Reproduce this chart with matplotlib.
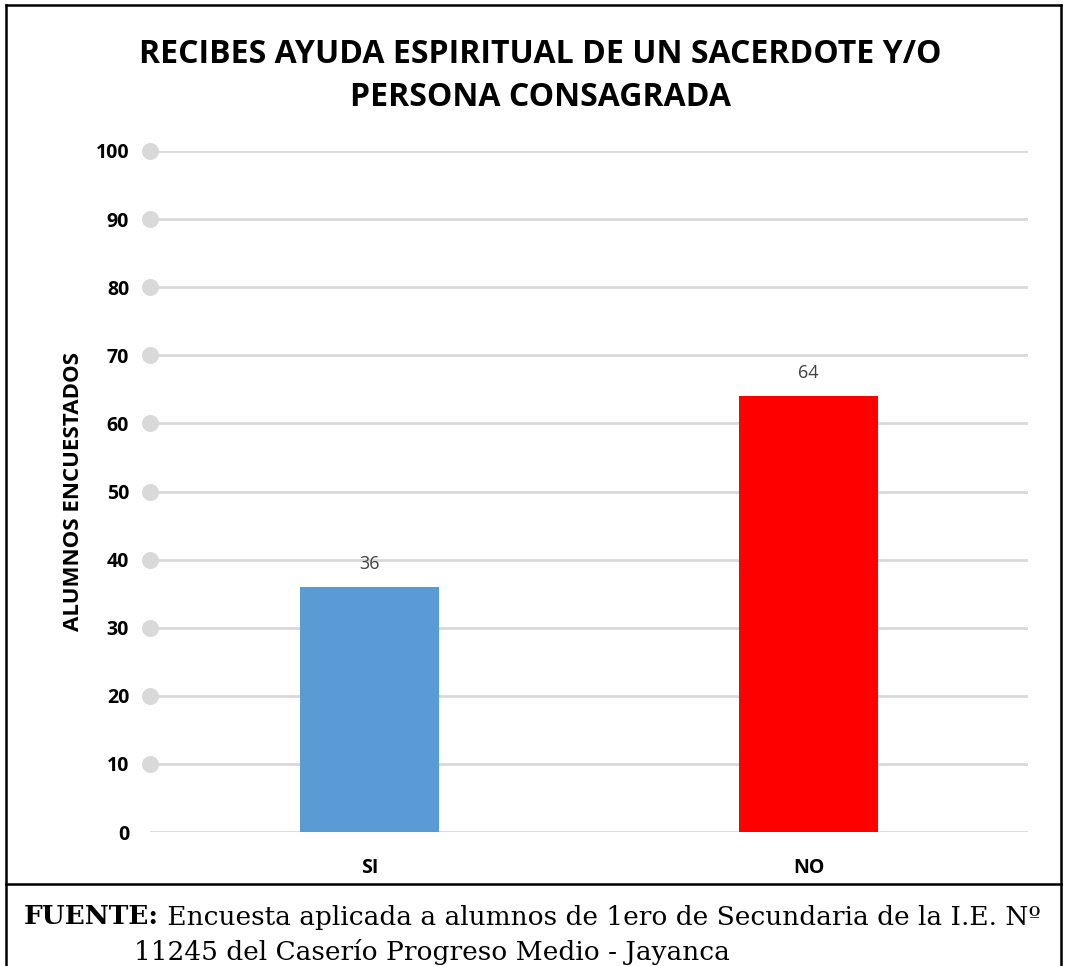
import matplotlib
matplotlib.use("Agg")
import matplotlib.pyplot as plt
from matplotlib.lines import Line2D
import matplotlib.transforms as mtransforms

categories = ["SI", "NO"]
values = [36, 64]
bar_colors = ["#5B9BD5", "#FF0000"]
yticks = [0, 10, 20, 30, 40, 50, 60, 70, 80, 90, 100]
title = "RECIBES AYUDA ESPIRITUAL DE UN SACERDOTE Y/O\nPERSONA CONSAGRADA"
ylabel = "ALUMNOS ENCUESTADOS"
footer_bold = "FUENTE:"
footer_line1 = " Encuesta aplicada a alumnos de 1ero de Secundaria de la I.E. Nº"
footer_line2 = "11245 del Caserío Progreso Medio - Jayanca"

W, H = 1069, 966
fig = plt.figure(figsize=(W / 100, H / 100), dpi=100)
fig.patch.set_facecolor("white")

left, right = 150 / W, 1028 / W
bottom, top = 1 - 832 / H, 1 - 151 / H
ax = fig.add_axes([left, bottom, right - left, top - bottom])

x = list(range(len(categories)))
ax.bar(x, values, width=0.315, color=bar_colors, zorder=3)
ax.set_xlim(-0.5, len(categories) - 0.5)
ax.set_ylim(0, 100)
ax.set_yticks(yticks)
ax.set_yticklabels([str(t) for t in yticks], fontsize=14, fontweight="bold",
                   family="Open Sans")
ax.set_xticks(x)
ax.set_xticklabels(categories, fontsize=14, fontweight="bold", family="Open Sans")
ax.tick_params(axis="y", length=0, pad=15)
ax.tick_params(axis="x", length=0, pad=19)
for s in ax.spines.values():
    s.set_visible(False)
ax.grid(axis="y", color="#D9D9D9", linewidth=2, zorder=0)
ax.set_axisbelow(True)

# gray dots at grid starts
trans = mtransforms.blended_transform_factory(ax.transAxes, ax.transData)
dots = [t for t in yticks if t > 0]
ax.scatter([0.0] * len(dots), dots, s=150, color="#D9D9D9", transform=trans,
           clip_on=False, zorder=4, linewidths=0)

for xi, v in zip(x, values):
    ax.annotate(str(v), (xi, v), xytext=(0, 10), textcoords="offset points",
                ha="center", va="bottom", fontsize=13, color="#404040",
                family="Open Sans")

ax.set_ylabel(ylabel, fontsize=16, fontweight="bold", family="Open Sans",
              labelpad=8)

fig.text(540 / W, 1 - 76 / H, title, ha="center", va="center",
         fontsize=23, fontweight="bold", family="Open Sans", linespacing=1.4)

# border box and footer separator
lw = 1.8
fig.add_artist(Line2D([6 / W, 6 / W], [0, 1 - 5 / H], color="black", lw=lw))
fig.add_artist(Line2D([1061 / W, 1061 / W], [0, 1 - 5 / H], color="black", lw=lw))
fig.add_artist(Line2D([6 / W, 1061 / W], [1 - 5 / H, 1 - 5 / H], color="black", lw=lw))
fig.add_artist(Line2D([6 / W, 1061 / W], [1 - 884 / H, 1 - 884 / H], color="black", lw=lw))

fs = 19
t1 = fig.text(24 / W, 1 - 917 / H, footer_bold, ha="left", va="center", fontsize=fs,
              fontweight="bold", family="DejaVu Serif")
fig.canvas.draw()
bb = t1.get_window_extent(renderer=fig.canvas.get_renderer())
fig.text(bb.x1 / W, 1 - 917 / H, footer_line1,
         ha="left", va="center", fontsize=fs, family="DejaVu Serif")
fig.text(134 / W, 1 - 952 / H, footer_line2,
         ha="left", va="center", fontsize=fs, family="DejaVu Serif")

fig.savefig("out.png", dpi=100, facecolor="white")
